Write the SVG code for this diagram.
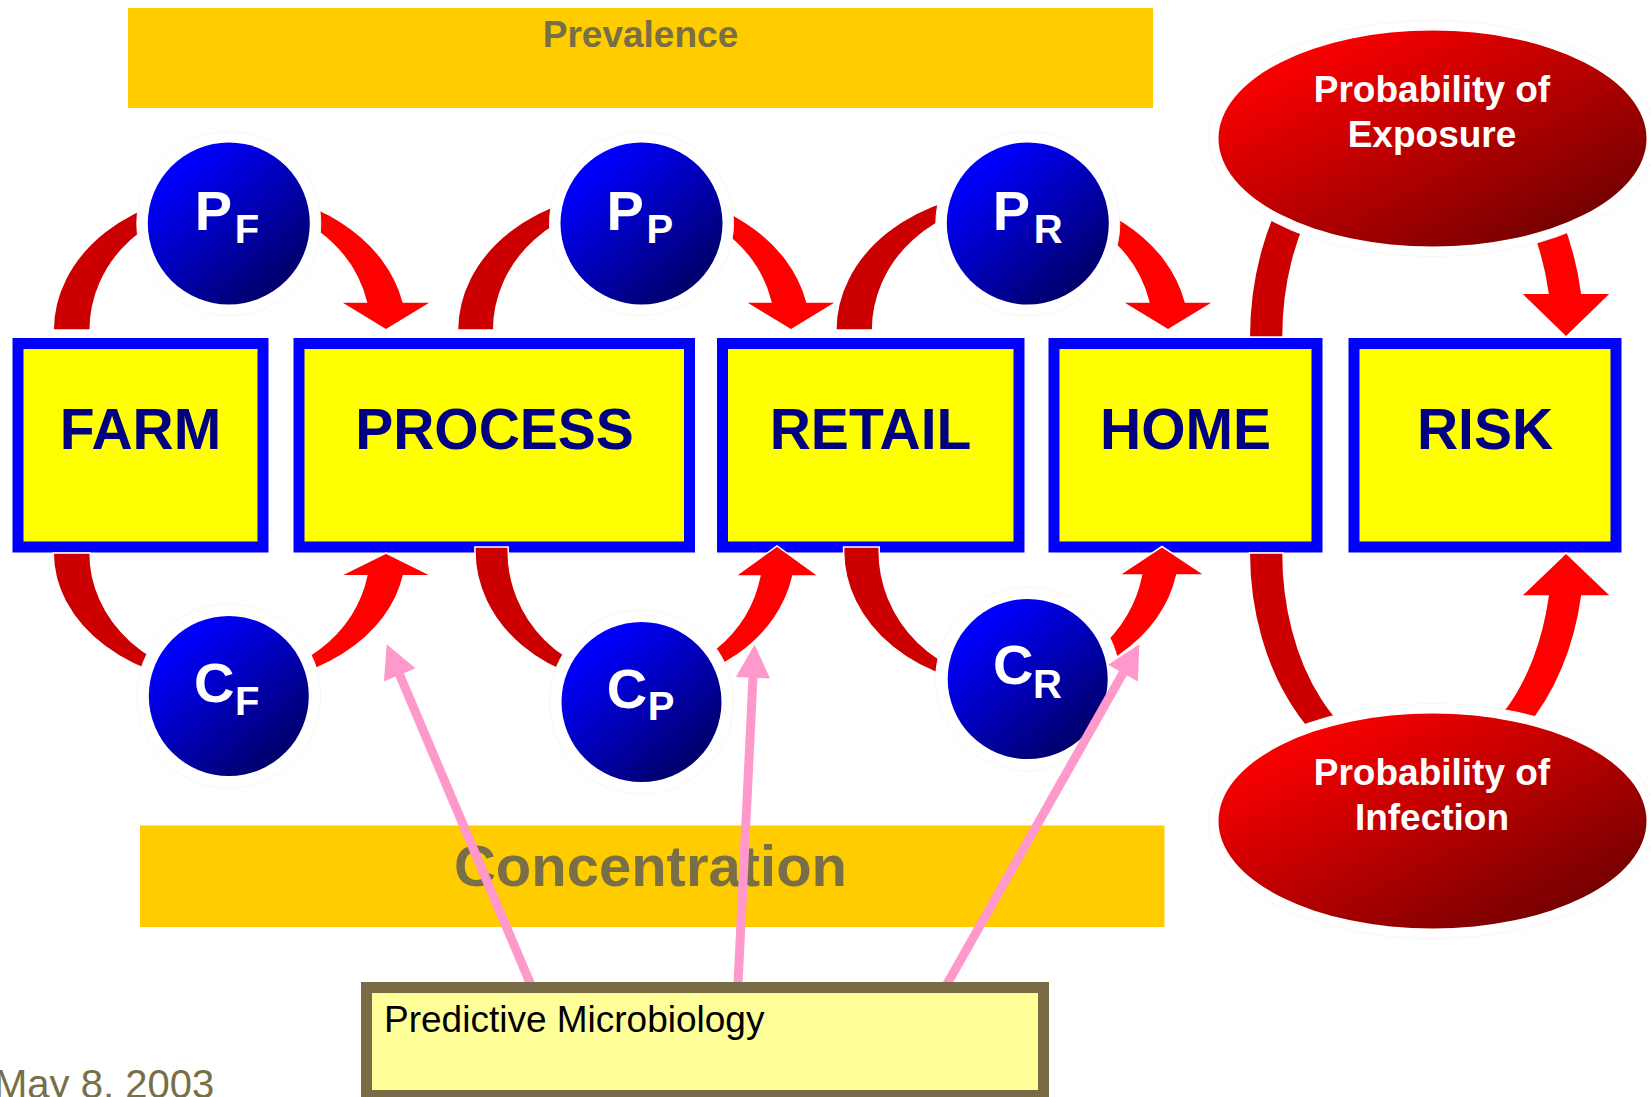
<svg xmlns="http://www.w3.org/2000/svg" width="1651" height="1097" viewBox="0 0 1651 1097">
  <defs>
    <linearGradient id="blueBall" x1="0.2" y1="0.15" x2="0.8" y2="0.85">
      <stop offset="0" stop-color="#0000ff"/>
      <stop offset="1" stop-color="#000070"/>
    </linearGradient>
    <linearGradient id="redBall" x1="0.1" y1="0.15" x2="0.85" y2="0.9">
      <stop offset="0" stop-color="#ff0000"/>
      <stop offset="1" stop-color="#740000"/>
    </linearGradient>
    <marker id="pinkHead" markerWidth="4" markerHeight="4" refX="0.05" refY="1.9" orient="auto" overflow="visible">
      <path d="M0,0 L3.7,1.9 L0,3.8 Z" fill="#ff99cc"/>
    </marker>
    <style>
      .banner { fill: #ffcc00; }
      .bannerText { font-family: "Liberation Sans", Arial, sans-serif; font-weight: bold; fill: #786e47; text-anchor: middle; }
      .stage rect { fill: #ffff00; stroke: #0000ff; stroke-width: 11; }
      .stage text { font-family: "Liberation Sans", Arial, sans-serif; font-weight: bold; font-size: 57px; fill: #000080; text-anchor: middle; }
      .halo { fill: #ffffff; stroke: #f7f7f7; stroke-width: 1; }
      .ball { fill: url(#blueBall); }
      .big { font-family: "Liberation Sans", Arial, sans-serif; font-weight: bold; font-size: 56px; fill: #ffffff; }
      .sub { font-family: "Liberation Sans", Arial, sans-serif; font-weight: bold; font-size: 40px; fill: #ffffff; }
      .prob { fill: url(#redBall); }
      .probText { font-family: "Liberation Sans", Arial, sans-serif; font-weight: bold; font-size: 37px; fill: #ffffff; text-anchor: middle; }
      .back { fill: #cc0000; stroke: #ffffff; stroke-width: 1.5; }
      .front { fill: #ff0000; stroke: #ffffff; stroke-width: 1.5; }
      .pink { stroke: #ff99cc; stroke-width: 9; fill: none; marker-end: url(#pinkHead); }
    </style>
  </defs>

  <rect width="1651" height="1097" fill="#ffffff"/>

  <!-- banners -->
  <g id="prevalence">
    <rect class="banner" x="128" y="8" width="1025" height="100"/>
    <text class="bannerText" x="640.5" y="46.5" font-size="37">Prevalence</text>
  </g>
  <g id="concentration">
    <rect class="banner" x="140" y="825.5" width="1024.5" height="101.5"/>
    <text class="bannerText" x="650.5" y="886" font-size="58">Concentration</text>
  </g>

  <!-- food-chain stages -->
  <g id="farm" class="stage">
    <rect x="18" y="343.5" width="245" height="203.5"/>
    <text x="140.5" y="449">FARM</text>
  </g>
  <g id="process" class="stage">
    <rect x="299" y="343.5" width="390.5" height="203.5"/>
    <text x="494.5" y="449">PROCESS</text>
  </g>
  <g id="retail" class="stage">
    <rect x="722.5" y="343.5" width="296.5" height="203.5"/>
    <text x="870.5" y="449">RETAIL</text>
  </g>
  <g id="home" class="stage">
    <rect x="1054" y="343.5" width="263" height="203.5"/>
    <text x="1185.5" y="449">HOME</text>
  </g>
  <g id="risk" class="stage">
    <rect x="1354" y="343.5" width="262" height="203.5"/>
    <text x="1485" y="449">RISK</text>
  </g>

  <!-- curved transfer arrows: dark tail, bright head -->
  <g id="connectors">
    <!-- FARM -> PROCESS via P_F -->
    <path class="back" d="M53.2 330 A176.8 139 0 0 1 230 191 L230 203 A139.8 127 0 0 0 90.2 330 Z"/>
    <path class="front" d="M230 191 A176.8 139 0 0 1 403.2 302 L432 302 L386 330 L340 302 L366.4 302 A139.8 127 0 0 0 230 203 Z"/>
    <!-- PROCESS -> RETAIL via P_P -->
    <path class="back" d="M457.5 330 A176.5 139 0 0 1 634 191 L634 203 A140.3 127 0 0 0 493.7 330 Z"/>
    <path class="front" d="M634 191 A176.5 139 0 0 1 806.9 302 L837 302 L791 330 L745 302 L770.9 302 A140.3 127 0 0 0 634 203 Z"/>
    <!-- RETAIL -> HOME via P_R -->
    <path class="back" d="M835.8 330 A176.6 139 0 0 1 1012.4 191 L1012.4 203 A139.8 127 0 0 0 872.6 330 Z"/>
    <path class="front" d="M1012.4 191 A176.6 139 0 0 1 1185.4 302 L1214 302 L1168 330 L1122 302 L1148.8 302 A139.8 127 0 0 0 1012.4 203 Z"/>

    <!-- FARM -> PROCESS via C_F -->
    <path class="back" d="M53.2 553 A176.4 132 0 0 0 229.6 685 L229.6 678 A139.5 125 0 0 1 90.1 553 Z"/>
    <path class="front" d="M229.6 685 A176.4 132 0 0 0 403.4 575.7 L431.5 575.7 L386 553 L340.5 575.7 L366.8 575.7 A139.5 125 0 0 1 229.6 678 Z"/>
    <!-- PROCESS -> RETAIL via C_P -->
    <path class="back" d="M474.9 547 L474.9 551 A160.4 134.6 0 0 0 635.3 685.6 L635.3 676.8 A127.1 125.8 0 0 1 508.2 551 L508.2 547 Z"/>
    <path class="front" d="M635.3 685.6 A160.4 134.6 0 0 0 792.9 576 L818.5 576 L777 546 L735.5 576 L759.9 576 A127.1 125.8 0 0 1 635.3 676.8 Z"/>
    <!-- RETAIL -> HOME via C_R -->
    <path class="back" d="M843.6 547 L843.6 551 A167.9 136 0 0 0 1011.5 687 L1011.5 680 A132.3 129 0 0 1 879.2 551 L879.2 547 Z"/>
    <path class="front" d="M1011.5 687 A167.9 136 0 0 0 1176.8 575 L1205 575 L1162 546.5 L1119 575 L1141.5 575 A132.3 129 0 0 1 1011.5 680 Z"/>

    <!-- HOME -> RISK via exposure -->
    <path class="back" d="M1249.3 337 A167.7 237 0 0 1 1417 100 L1417 130 A134 207 0 0 0 1283 337 Z"/>
    <path class="front" d="M1417 100 A167.7 237 0 0 1 1581.8 293.3 L1611 293.3 L1566 337 L1521 293.3 L1548 293.3 A134 207 0 0 0 1417 130 Z"/>
    <!-- HOME -> RISK via infection -->
    <path class="back" d="M1249.3 553 A167.7 231 0 0 0 1417 784 L1417 760 A134 207 0 0 1 1283 553 Z"/>
    <path class="front" d="M1417 784 A167.7 231 0 0 0 1581.8 596 L1611 596 L1566 553 L1521 596 L1548.1 596 A134 207 0 0 1 1417 760 Z"/>
  </g>

  <!-- prevalence parameters -->
  <g id="pf">
    <circle class="halo" cx="228.8" cy="223.5" r="92"/>
    <circle class="ball" cx="228.8" cy="223.5" r="81"/>
    <text class="big" x="194.8" y="230">P</text>
    <text class="sub" x="234.8" y="243">F</text>
  </g>
  <g id="pp">
    <circle class="halo" cx="641.5" cy="223.5" r="92"/>
    <circle class="ball" cx="641.5" cy="223.5" r="81"/>
    <text class="big" x="606.5" y="230">P</text>
    <text class="sub" x="646.5" y="243">P</text>
  </g>
  <g id="pr">
    <circle class="halo" cx="1027.8" cy="223.5" r="92"/>
    <circle class="ball" cx="1027.8" cy="223.5" r="81"/>
    <text class="big" x="992.8" y="230">P</text>
    <text class="sub" x="1033.8" y="243">R</text>
  </g>

  <!-- concentration parameters -->
  <g id="cf">
    <circle class="halo" cx="228.8" cy="696" r="92"/>
    <circle class="ball" cx="228.8" cy="696" r="80"/>
    <text class="big" x="194" y="702">C</text>
    <text class="sub" x="235" y="715">F</text>
  </g>
  <g id="cp">
    <circle class="halo" cx="641.5" cy="702" r="92"/>
    <circle class="ball" cx="641.5" cy="702" r="80"/>
    <text class="big" x="606.8" y="707.5">C</text>
    <text class="sub" x="647.8" y="720">P</text>
  </g>
  <g id="cr">
    <circle class="halo" cx="1027.7" cy="679" r="92"/>
    <circle class="ball" cx="1027.7" cy="679" r="80"/>
    <text class="big" x="993" y="684">C</text>
    <text class="sub" x="1033" y="697.5">R</text>
  </g>

  <!-- dose-response ovals -->
  <g id="exposure">
    <ellipse class="halo" cx="1432.5" cy="138.5" rx="224" ry="118"/>
    <ellipse class="prob" cx="1432.5" cy="138.5" rx="214" ry="108"/>
    <text class="probText" x="1432" y="102">Probability of</text>
    <text class="probText" x="1432" y="147">Exposure</text>
  </g>
  <g id="infection">
    <ellipse class="halo" cx="1432.5" cy="821" rx="224" ry="117.5"/>
    <ellipse class="prob" cx="1432.5" cy="821" rx="214" ry="107.5"/>
    <text class="probText" x="1432" y="785">Probability of</text>
    <text class="probText" x="1432" y="830">Infection</text>
  </g>

  <!-- predictive microbiology feeds -->
  <g id="microbiology-links">
    <line class="pink" x1="530.5" y1="984" x2="399.5" y2="674.4"/>
    <line class="pink" x1="738" y1="984" x2="753" y2="677.3"/>
    <line class="pink" x1="947" y1="984" x2="1123.2" y2="672.8"/>
  </g>

  <g id="predictive">
    <rect x="366.5" y="987.5" width="677" height="108" fill="#ffff99" stroke="#786c46" stroke-width="11"/>
    <text x="384" y="1031.5" font-family="'Liberation Sans', Arial, sans-serif" font-size="37" fill="#000000">Predictive Microbiology</text>
  </g>

  <text id="date" x="-6" y="1098" font-family="'Liberation Sans', Arial, sans-serif" font-size="40" fill="#786e47">May 8, 2003</text>
</svg>
